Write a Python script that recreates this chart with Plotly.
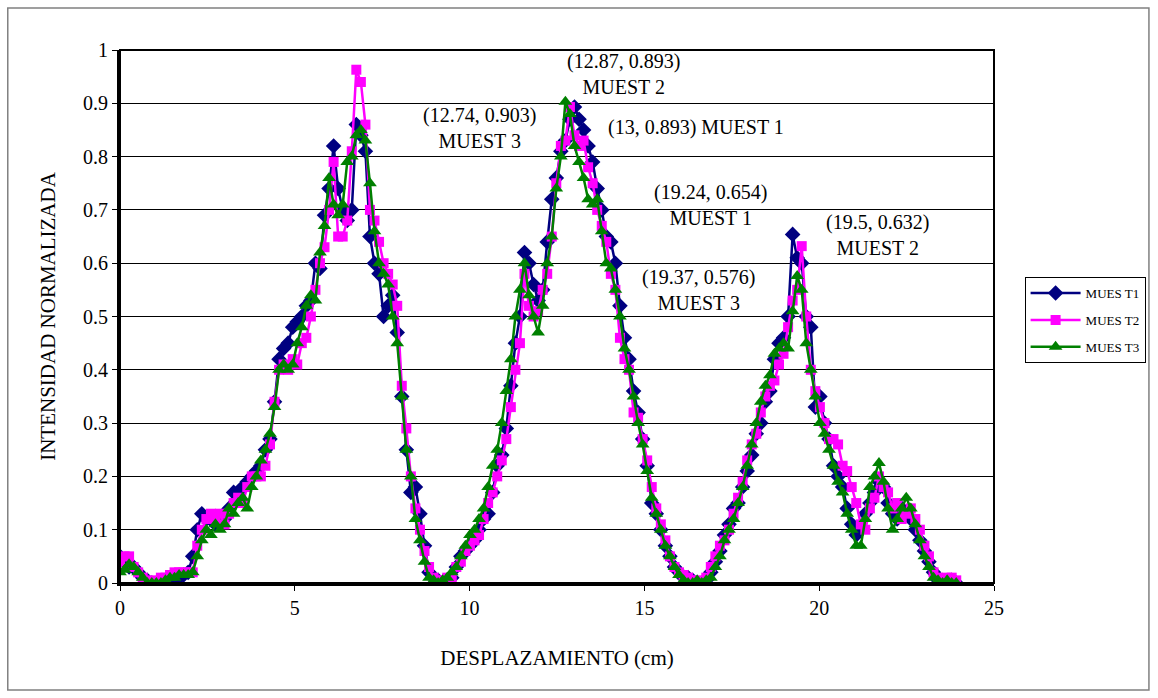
import plotly.graph_objects as go

STEP_CM = 0.13
N_POINTS = 185
x_cm = [round(STEP_CM * i, 2) for i in range(N_POINTS)]

muestra1 = [
    0.05, 0.04, 0.03, 0.03, 0.02, 0.01, 0.005, 0.0, 0.0, 0.0,
    0.0, 0.005, 0.01, 0.01, 0.015, 0.02, 0.05, 0.1, 0.13, 0.12,
    0.12, 0.11, 0.12, 0.12, 0.14, 0.17, 0.17, 0.18, 0.19, 0.2,
    0.21, 0.22, 0.25, 0.27, 0.34, 0.42, 0.44, 0.45, 0.48, 0.49,
    0.5, 0.52, 0.53, 0.6, 0.59, 0.69, 0.74, 0.82, 0.74, 0.7,
    0.68, 0.7, 0.86, 0.84, 0.81, 0.65, 0.6, 0.58, 0.5, 0.52,
    0.54, 0.47, 0.35, 0.25, 0.17, 0.18, 0.13, 0.07, 0.02, 0.01,
    0.005, 0.0, 0.0, 0.01, 0.03, 0.05, 0.06, 0.07, 0.08, 0.1,
    0.12, 0.13, 0.17, 0.22, 0.24, 0.29, 0.37, 0.45, 0.5, 0.62,
    0.6, 0.56, 0.53, 0.55, 0.64, 0.72, 0.76, 0.81, 0.83, 0.87,
    0.893, 0.87, 0.85, 0.82, 0.79, 0.74, 0.7, 0.65, 0.64, 0.6,
    0.52, 0.46, 0.42, 0.36, 0.32, 0.27, 0.22, 0.15, 0.13, 0.1,
    0.07, 0.05, 0.03, 0.02, 0.01, 0.01, 0.005, 0.0, 0.0, 0.005,
    0.02, 0.04, 0.06, 0.09, 0.11, 0.14, 0.15, 0.18, 0.21, 0.24,
    0.28, 0.3, 0.34, 0.36, 0.42, 0.45, 0.46, 0.5, 0.654, 0.61,
    0.6, 0.5, 0.48, 0.33, 0.35, 0.3, 0.27, 0.22, 0.2, 0.18,
    0.14, 0.11, 0.09, 0.1, 0.13, 0.15, 0.17, 0.19, 0.18, 0.15,
    0.13, 0.12, 0.14, 0.13, 0.12, 0.1, 0.08, 0.06, 0.04, 0.02,
    0.005, 0.0, 0.0, 0.005, 0.0,
]

muestra2 = [
    0.04, 0.05, 0.05, 0.03, 0.02, 0.01, 0.005, 0.0, 0.005, 0.01,
    0.01, 0.015, 0.02, 0.02, 0.02, 0.02, 0.02, 0.07, 0.1, 0.12,
    0.13, 0.12, 0.13, 0.11, 0.13, 0.15, 0.16, 0.15, 0.18, 0.2,
    0.2, 0.2, 0.22, 0.26, 0.34, 0.4, 0.41, 0.4, 0.42, 0.41,
    0.45, 0.46, 0.5, 0.55, 0.6, 0.63, 0.7, 0.79, 0.65, 0.65,
    0.68, 0.81, 0.963, 0.94, 0.86, 0.7, 0.68, 0.64, 0.6, 0.58,
    0.56, 0.52, 0.37, 0.29, 0.2, 0.14, 0.1, 0.06, 0.03, 0.01,
    0.005, 0.005, 0.01, 0.01, 0.03, 0.04, 0.06, 0.07, 0.08, 0.09,
    0.12, 0.15, 0.17, 0.2, 0.23, 0.27, 0.33, 0.4, 0.45, 0.58,
    0.52, 0.5, 0.51, 0.55, 0.58, 0.65, 0.75, 0.82, 0.83, 0.893,
    0.84, 0.82, 0.83, 0.78, 0.75, 0.7, 0.67, 0.64, 0.58, 0.55,
    0.46, 0.42, 0.4, 0.32, 0.31, 0.27, 0.23, 0.18, 0.14, 0.11,
    0.08, 0.05, 0.03, 0.02, 0.015, 0.01, 0.005, 0.005, 0.0, 0.01,
    0.03, 0.05, 0.07, 0.08, 0.1, 0.13, 0.16, 0.19, 0.23, 0.26,
    0.28, 0.32, 0.35, 0.37, 0.38, 0.41, 0.43, 0.48, 0.53, 0.55,
    0.632, 0.5, 0.4, 0.36, 0.33, 0.3, 0.27, 0.27, 0.26, 0.22,
    0.21, 0.18, 0.15, 0.11, 0.1, 0.14, 0.16, 0.2, 0.18, 0.17,
    0.14, 0.15, 0.12, 0.13, 0.14, 0.12, 0.1, 0.07, 0.05, 0.02,
    0.01, 0.005, 0.01, 0.01, 0.005,
]

muestra3 = [
    0.02, 0.025, 0.035, 0.03, 0.02, 0.01, 0.0, 0.0, 0.0, 0.0,
    0.005, 0.01, 0.01, 0.015, 0.015, 0.015, 0.02, 0.05, 0.08, 0.1,
    0.09, 0.11, 0.1, 0.11, 0.14, 0.13, 0.15, 0.16, 0.14, 0.18,
    0.2, 0.23, 0.25, 0.28, 0.33, 0.4, 0.41, 0.4, 0.41, 0.45,
    0.48, 0.52, 0.54, 0.53, 0.62, 0.67, 0.76, 0.71, 0.69, 0.71,
    0.79, 0.8, 0.84, 0.85, 0.83, 0.75, 0.66, 0.6, 0.58, 0.56,
    0.5, 0.45, 0.35, 0.25, 0.2, 0.12, 0.08, 0.04, 0.01, 0.005,
    0.0, 0.005, 0.01, 0.02, 0.03, 0.05, 0.07, 0.09, 0.1, 0.12,
    0.14, 0.18, 0.22, 0.25, 0.3, 0.36, 0.42, 0.5, 0.55, 0.6,
    0.54, 0.5, 0.47, 0.52, 0.6, 0.65, 0.74, 0.8, 0.903, 0.88,
    0.82, 0.79, 0.76, 0.72, 0.71, 0.72, 0.66, 0.6, 0.59, 0.55,
    0.5, 0.44, 0.4, 0.35, 0.3, 0.26, 0.21, 0.16, 0.13, 0.1,
    0.07, 0.05, 0.03, 0.015, 0.005, 0.0, 0.0, 0.005, 0.0, 0.005,
    0.01, 0.03, 0.05, 0.08, 0.1, 0.12, 0.15, 0.18, 0.22, 0.26,
    0.3, 0.34, 0.37, 0.39, 0.43, 0.44, 0.45, 0.44, 0.51, 0.576,
    0.55, 0.45, 0.4, 0.35, 0.3, 0.28, 0.25, 0.22, 0.19, 0.17,
    0.13, 0.1, 0.07, 0.07, 0.12, 0.18, 0.2, 0.225, 0.19, 0.14,
    0.1, 0.12, 0.14, 0.16, 0.14, 0.11, 0.08, 0.05, 0.03, 0.01,
    0.005, 0.0, 0.005, 0.0, 0.0,
]

series_names = ["MUES T1", "MUES T2", "MUES T3"]
series_colors = ["#000080", "#FF00FF", "#008000"]
series_symbols = ["diamond", "square", "triangle-up"]
series_marker_sizes = [12, 10, 12]
series_data = [muestra1, muestra2, muestra3]

y_tick_vals = [0, 0.1, 0.2, 0.3, 0.4, 0.5, 0.6, 0.7, 0.8, 0.9, 1]
y_tick_text = ["0", "0.1", "0.2", "0.3", "0.4", "0.5", "0.6", "0.7", "0.8", "0.9", "1"]
x_tick_vals = [0, 5, 10, 15, 20, 25]

# data labels: (x, y, text)
label_points = [
    (12.87, 0.893, "(12.87, 0.893)<br>MUEST 2"),
    (12.74, 0.903, "(12.74, 0.903)<br>MUEST 3"),
    (13.0, 0.893, "(13, 0.893) MUEST 1"),
    (19.24, 0.654, "(19.24, 0.654)<br>MUEST 1"),
    (19.5, 0.632, "(19.5, 0.632)<br>MUEST 2"),
    (19.37, 0.576, "(19.37, 0.576)<br>MUEST 3"),
]
# label offsets in pixels (layout only)
label_offsets = [(54, -33), (-86, 26), (122, 20), (-82, -29), (76, -11), (-99, 14)]

FONT = "Liberation Serif, Times New Roman, serif"

fig = go.Figure()
for name, col, sym, ms, ys in zip(series_names, series_colors, series_symbols,
                                  series_marker_sizes, series_data):
    fig.add_trace(go.Scatter(
        x=x_cm, y=ys, name=name, mode="lines+markers", legendgroup=name,
        line=dict(color=col, width=2.5),
        marker=dict(symbol=sym, size=ms, color=col, line=dict(width=0)),
    ))

for (lx, ly, txt), (ox, oy) in zip(label_points, label_offsets):
    fig.add_annotation(x=lx, y=ly, text=txt, showarrow=True, arrowcolor="rgba(0,0,0,0)",
                       ax=ox, ay=oy, font=dict(family=FONT, size=20, color="black"),
                       align="center")

fig.update_layout(
    width=1158, height=698,
    margin=dict(l=120, r=158, t=50, b=115),
    paper_bgcolor="white", plot_bgcolor="white",
    font=dict(family=FONT, size=20, color="black"),
    showlegend=True,
    legend=dict(x=1.035, y=0.574, xanchor="left", yanchor="top",
                bordercolor="black", borderwidth=1, bgcolor="white",
                font=dict(family=FONT, size=13, color="black"),
                traceorder="grouped", tracegroupgap=7, itemwidth=50),
    xaxis=dict(range=[0, 25], tickvals=x_tick_vals, ticks="outside",
               ticklen=5, tickcolor="black", showgrid=False, zeroline=False,
               showline=True, linecolor="black", linewidth=3,
               title=dict(text="DESPLAZAMIENTO (cm)", font=dict(family=FONT, size=21), standoff=33),
               tickfont=dict(family=FONT, size=20)),
    yaxis=dict(range=[0, 1], tickvals=y_tick_vals, ticktext=y_tick_text,
               ticks="outside", ticklen=5, tickcolor="black",
               showgrid=True, gridcolor="black", gridwidth=1, zeroline=False,
               showline=True, linecolor="black", linewidth=3,
               title=dict(text="INTENSIDAD NORMALIZADA", font=dict(family=FONT, size=21), standoff=22),
               tickfont=dict(family=FONT, size=20)),
)

# plot area border (top / right)
fig.add_shape(type="rect", xref="paper", yref="paper", x0=0, y0=0, x1=1, y1=1,
              line=dict(color="black", width=2), layer="above")
# chart area outer border
fig.add_shape(type="rect", xref="paper", yref="paper",
              x0=(7 - 120) / 880, x1=(1156 - 120) / 880,
              y0=(583 - 690) / 533, y1=(583 - 8) / 533,
              line=dict(color="#808080", width=1.5), layer="below")

fig.write_html("out.html")
